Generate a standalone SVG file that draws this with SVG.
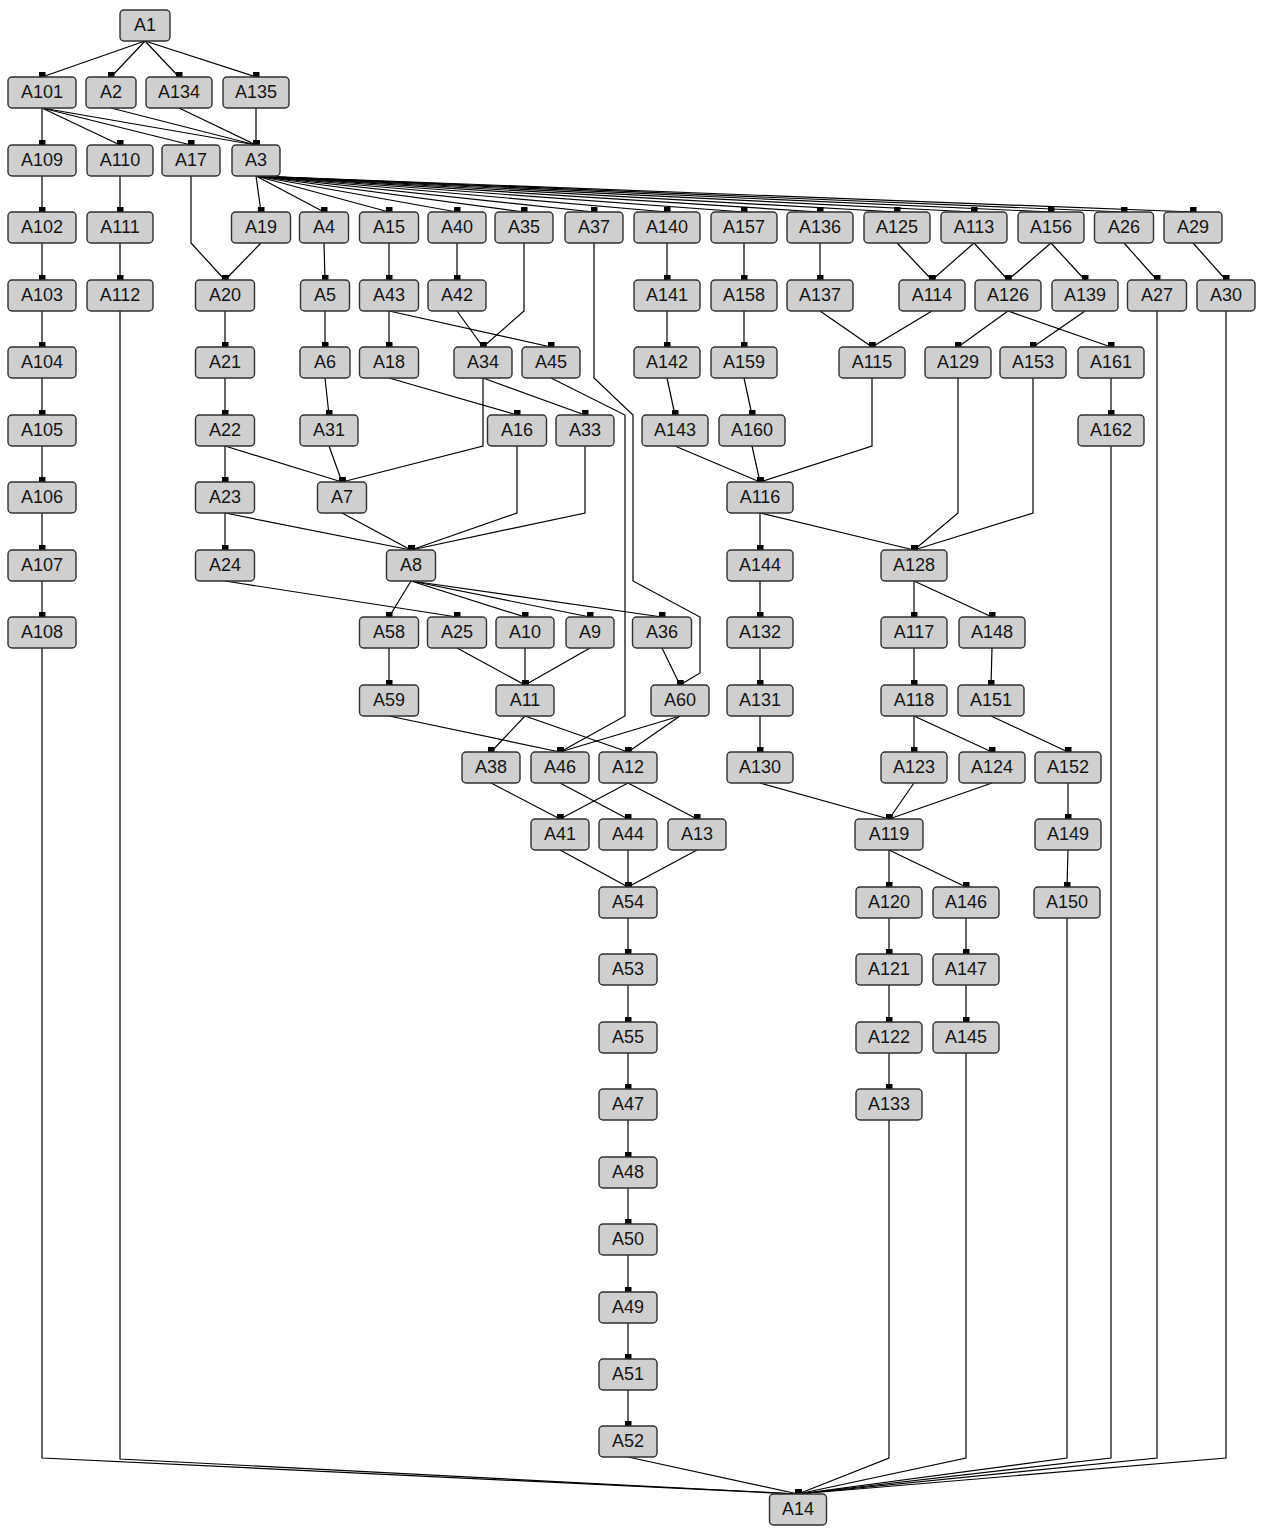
<svg xmlns="http://www.w3.org/2000/svg" width="1262" height="1530" viewBox="0 0 1262 1530">
<style>
.n rect{fill:#cfcfcf;stroke:#303030;stroke-width:1.4}
.n text{font-family:"Liberation Sans",Arial,sans-serif;font-size:18px;fill:#151515;text-anchor:middle}
#edges path{fill:none;stroke:#000;stroke-width:1.2;marker-end:url(#m)}
</style>
<defs>
<marker id="m" markerUnits="userSpaceOnUse" markerWidth="7" markerHeight="5" viewBox="0 0 7 5" refX="3.5" refY="5" orient="0"><rect width="7" height="5" fill="#000"/></marker>
</defs>
<rect width="1262" height="1530" fill="#fff"/>
<g id="edges">
<path d="M145 41L42 77"/><path d="M145 41L111 77"/><path d="M145 41L179 77"/><path d="M145 41L256 77"/>
<path d="M42 108L42 145"/><path d="M42 108L120 145"/><path d="M42 108L191 145"/><path d="M42 108L256 145"/>
<path d="M111 108L256 145"/><path d="M179 108L256 145"/><path d="M256 108L256 145"/>
<path d="M42 176L42 212"/><path d="M42 243L42 280"/><path d="M42 311L42 347"/><path d="M42 378L42 415"/><path d="M42 446L42 482"/><path d="M42 513L42 550"/><path d="M42 581L42 617"/>
<path d="M42 648L42 1458L798 1494"/>
<path d="M120 176L120 212"/><path d="M120 243L120 280"/>
<path d="M120 311L120 1459L798 1494"/>
<path d="M191 176L191 243L225 280"/>
<path d="M256 176L261 212"/><path d="M256 176L324 212"/><path d="M256 176L389 212"/><path d="M256 176L457 212"/><path d="M256 176L524 212"/><path d="M256 176L594 212"/><path d="M256 176L667 212"/><path d="M256 176L744 212"/><path d="M256 176L820 212"/><path d="M256 176L897 212"/><path d="M256 176L974 212"/><path d="M256 176L1051 212"/><path d="M256 176L1124 212"/><path d="M256 176L1193 212"/>
<path d="M261 243L225 280"/>
<path d="M225 311L225 347"/><path d="M225 378L225 415"/><path d="M225 446L225 482"/><path d="M225 446L342 482"/><path d="M225 513L225 550"/><path d="M225 513L411 550"/><path d="M225 581L457 617"/>
<path d="M324 243L325 280"/><path d="M325 311L325 347"/><path d="M325 378L329 415"/><path d="M329 446L342 482"/><path d="M342 513L411 550"/>
<path d="M389 243L389 280"/><path d="M389 311L389 347"/><path d="M389 311L551 347"/><path d="M389 378L517 415"/>
<path d="M457 243L457 280"/><path d="M457 311L483 347"/>
<path d="M524 243L524 311L483 347"/>
<path d="M483 378L483 446L342 482"/><path d="M483 378L585 415"/>
<path d="M517 446L517 513L411 550"/><path d="M585 446L585 513L411 550"/>
<path d="M594 243L594 378L633 415L633 581L700 617L700 673L680 685"/>
<path d="M551 378L625 415L625 716L560 752"/>
<path d="M411 581L389 617"/><path d="M411 581L525 617"/><path d="M411 581L590 617"/><path d="M411 581L662 617"/>
<path d="M389 648L389 685"/><path d="M457 648L525 685"/><path d="M525 648L525 685"/><path d="M590 648L525 685"/><path d="M662 648L680 685"/>
<path d="M389 716L560 752"/><path d="M525 716L491 752"/><path d="M525 716L628 752"/><path d="M680 716L560 752"/><path d="M680 716L628 752"/>
<path d="M491 783L560 819"/><path d="M560 783L628 819"/><path d="M628 783L560 819"/><path d="M628 783L697 819"/>
<path d="M560 850L628 887"/><path d="M628 850L628 887"/><path d="M697 850L628 887"/>
<path d="M628 918L628 954"/><path d="M628 985L628 1022"/><path d="M628 1053L628 1089"/><path d="M628 1120L628 1157"/><path d="M628 1188L628 1224"/><path d="M628 1255L628 1292"/><path d="M628 1323L628 1359"/><path d="M628 1390L628 1426"/>
<path d="M628 1457L798 1494"/>
<path d="M667 243L667 280"/><path d="M667 311L667 347"/><path d="M667 378L675 415"/><path d="M675 446L760 482"/>
<path d="M744 243L744 280"/><path d="M744 311L744 347"/><path d="M744 378L752 415"/><path d="M752 446L760 482"/>
<path d="M820 243L820 280"/><path d="M820 311L872 347"/>
<path d="M897 243L932 280"/><path d="M974 243L932 280"/><path d="M974 243L1008 280"/><path d="M1051 243L1008 280"/><path d="M1051 243L1085 280"/>
<path d="M1124 243L1157 280"/><path d="M1193 243L1226 280"/>
<path d="M932 311L872 347"/><path d="M1008 311L958 347"/><path d="M1008 311L1111 347"/><path d="M1085 311L1033 347"/>
<path d="M872 378L872 446L760 482"/>
<path d="M958 378L958 513L914 550"/><path d="M1033 378L1033 513L914 550"/>
<path d="M1111 378L1111 415"/>
<path d="M1111 446L1111 1458L798 1494"/>
<path d="M1157 311L1157 1458L798 1494"/>
<path d="M1226 311L1226 1458L798 1494"/>
<path d="M760 513L760 550"/><path d="M760 513L914 550"/>
<path d="M760 581L760 617"/><path d="M760 648L760 685"/><path d="M760 716L760 752"/><path d="M760 783L889 819"/>
<path d="M914 581L914 617"/><path d="M914 581L992 617"/><path d="M914 648L914 685"/><path d="M992 648L991 685"/>
<path d="M914 716L914 752"/><path d="M914 716L992 752"/><path d="M991 716L1068 752"/>
<path d="M914 783L889 819"/><path d="M992 783L889 819"/>
<path d="M1068 783L1068 819"/><path d="M1068 850L1067 887"/>
<path d="M1067 918L1067 1458L798 1494"/>
<path d="M889 850L889 887"/><path d="M889 850L966 887"/>
<path d="M889 918L889 954"/><path d="M889 985L889 1022"/><path d="M889 1053L889 1089"/>
<path d="M889 1120L889 1458L798 1494"/>
<path d="M966 918L966 954"/><path d="M966 985L966 1022"/>
<path d="M966 1053L966 1458L798 1494"/>
</g>
<g id="A1" class="n"><rect x="120" y="10" width="50" height="31" rx="4"/><text x="145" y="31">A1</text></g>
<g id="A101" class="n"><rect x="8" y="77" width="68" height="31" rx="4"/><text x="42" y="98">A101</text></g>
<g id="A2" class="n"><rect x="86" y="77" width="50" height="31" rx="4"/><text x="111" y="98">A2</text></g>
<g id="A134" class="n"><rect x="146" y="77" width="66" height="31" rx="4"/><text x="179" y="98">A134</text></g>
<g id="A135" class="n"><rect x="223" y="77" width="66" height="31" rx="4"/><text x="256" y="98">A135</text></g>
<g id="A109" class="n"><rect x="8" y="145" width="68" height="31" rx="4"/><text x="42" y="166">A109</text></g>
<g id="A110" class="n"><rect x="87" y="145" width="66" height="31" rx="4"/><text x="120" y="166">A110</text></g>
<g id="A17" class="n"><rect x="162" y="145" width="58" height="31" rx="4"/><text x="191" y="166">A17</text></g>
<g id="A3" class="n"><rect x="232" y="145" width="48" height="31" rx="4"/><text x="256" y="166">A3</text></g>
<g id="A102" class="n"><rect x="8" y="212" width="68" height="31" rx="4"/><text x="42" y="233">A102</text></g>
<g id="A111" class="n"><rect x="87" y="212" width="66" height="31" rx="4"/><text x="120" y="233">A111</text></g>
<g id="A19" class="n"><rect x="231.5" y="212" width="59" height="31" rx="4"/><text x="261" y="233">A19</text></g>
<g id="A4" class="n"><rect x="299.5" y="212" width="49" height="31" rx="4"/><text x="324" y="233">A4</text></g>
<g id="A15" class="n"><rect x="359.5" y="212" width="59" height="31" rx="4"/><text x="389" y="233">A15</text></g>
<g id="A40" class="n"><rect x="428" y="212" width="58" height="31" rx="4"/><text x="457" y="233">A40</text></g>
<g id="A35" class="n"><rect x="495" y="212" width="58" height="31" rx="4"/><text x="524" y="233">A35</text></g>
<g id="A37" class="n"><rect x="565" y="212" width="58" height="31" rx="4"/><text x="594" y="233">A37</text></g>
<g id="A140" class="n"><rect x="634" y="212" width="66" height="31" rx="4"/><text x="667" y="233">A140</text></g>
<g id="A157" class="n"><rect x="711" y="212" width="66" height="31" rx="4"/><text x="744" y="233">A157</text></g>
<g id="A136" class="n"><rect x="787" y="212" width="66" height="31" rx="4"/><text x="820" y="233">A136</text></g>
<g id="A125" class="n"><rect x="864" y="212" width="66" height="31" rx="4"/><text x="897" y="233">A125</text></g>
<g id="A113" class="n"><rect x="941" y="212" width="66" height="31" rx="4"/><text x="974" y="233">A113</text></g>
<g id="A156" class="n"><rect x="1018" y="212" width="66" height="31" rx="4"/><text x="1051" y="233">A156</text></g>
<g id="A26" class="n"><rect x="1094.5" y="212" width="59" height="31" rx="4"/><text x="1124" y="233">A26</text></g>
<g id="A29" class="n"><rect x="1164" y="212" width="58" height="31" rx="4"/><text x="1193" y="233">A29</text></g>
<g id="A103" class="n"><rect x="8" y="280" width="68" height="31" rx="4"/><text x="42" y="301">A103</text></g>
<g id="A112" class="n"><rect x="87" y="280" width="66" height="31" rx="4"/><text x="120" y="301">A112</text></g>
<g id="A20" class="n"><rect x="195.5" y="280" width="59" height="31" rx="4"/><text x="225" y="301">A20</text></g>
<g id="A5" class="n"><rect x="300.5" y="280" width="49" height="31" rx="4"/><text x="325" y="301">A5</text></g>
<g id="A43" class="n"><rect x="359.5" y="280" width="59" height="31" rx="4"/><text x="389" y="301">A43</text></g>
<g id="A42" class="n"><rect x="428" y="280" width="58" height="31" rx="4"/><text x="457" y="301">A42</text></g>
<g id="A141" class="n"><rect x="634" y="280" width="66" height="31" rx="4"/><text x="667" y="301">A141</text></g>
<g id="A158" class="n"><rect x="711" y="280" width="66" height="31" rx="4"/><text x="744" y="301">A158</text></g>
<g id="A137" class="n"><rect x="787" y="280" width="66" height="31" rx="4"/><text x="820" y="301">A137</text></g>
<g id="A114" class="n"><rect x="899" y="280" width="66" height="31" rx="4"/><text x="932" y="301">A114</text></g>
<g id="A126" class="n"><rect x="975" y="280" width="66" height="31" rx="4"/><text x="1008" y="301">A126</text></g>
<g id="A139" class="n"><rect x="1052" y="280" width="66" height="31" rx="4"/><text x="1085" y="301">A139</text></g>
<g id="A27" class="n"><rect x="1127.5" y="280" width="59" height="31" rx="4"/><text x="1157" y="301">A27</text></g>
<g id="A30" class="n"><rect x="1197" y="280" width="58" height="31" rx="4"/><text x="1226" y="301">A30</text></g>
<g id="A104" class="n"><rect x="8" y="347" width="68" height="31" rx="4"/><text x="42" y="368">A104</text></g>
<g id="A21" class="n"><rect x="195.5" y="347" width="59" height="31" rx="4"/><text x="225" y="368">A21</text></g>
<g id="A6" class="n"><rect x="300" y="347" width="50" height="31" rx="4"/><text x="325" y="368">A6</text></g>
<g id="A18" class="n"><rect x="359.5" y="347" width="59" height="31" rx="4"/><text x="389" y="368">A18</text></g>
<g id="A34" class="n"><rect x="454" y="347" width="58" height="31" rx="4"/><text x="483" y="368">A34</text></g>
<g id="A45" class="n"><rect x="522" y="347" width="58" height="31" rx="4"/><text x="551" y="368">A45</text></g>
<g id="A142" class="n"><rect x="634" y="347" width="66" height="31" rx="4"/><text x="667" y="368">A142</text></g>
<g id="A159" class="n"><rect x="711" y="347" width="66" height="31" rx="4"/><text x="744" y="368">A159</text></g>
<g id="A115" class="n"><rect x="839" y="347" width="66" height="31" rx="4"/><text x="872" y="368">A115</text></g>
<g id="A129" class="n"><rect x="925" y="347" width="66" height="31" rx="4"/><text x="958" y="368">A129</text></g>
<g id="A153" class="n"><rect x="1000" y="347" width="66" height="31" rx="4"/><text x="1033" y="368">A153</text></g>
<g id="A161" class="n"><rect x="1078" y="347" width="66" height="31" rx="4"/><text x="1111" y="368">A161</text></g>
<g id="A105" class="n"><rect x="8" y="415" width="68" height="31" rx="4"/><text x="42" y="436">A105</text></g>
<g id="A22" class="n"><rect x="195.5" y="415" width="59" height="31" rx="4"/><text x="225" y="436">A22</text></g>
<g id="A31" class="n"><rect x="300" y="415" width="58" height="31" rx="4"/><text x="329" y="436">A31</text></g>
<g id="A16" class="n"><rect x="487.5" y="415" width="59" height="31" rx="4"/><text x="517" y="436">A16</text></g>
<g id="A33" class="n"><rect x="556" y="415" width="58" height="31" rx="4"/><text x="585" y="436">A33</text></g>
<g id="A143" class="n"><rect x="642" y="415" width="66" height="31" rx="4"/><text x="675" y="436">A143</text></g>
<g id="A160" class="n"><rect x="719" y="415" width="66" height="31" rx="4"/><text x="752" y="436">A160</text></g>
<g id="A162" class="n"><rect x="1078" y="415" width="66" height="31" rx="4"/><text x="1111" y="436">A162</text></g>
<g id="A106" class="n"><rect x="8" y="482" width="68" height="31" rx="4"/><text x="42" y="503">A106</text></g>
<g id="A23" class="n"><rect x="195.5" y="482" width="59" height="31" rx="4"/><text x="225" y="503">A23</text></g>
<g id="A7" class="n"><rect x="317.5" y="482" width="49" height="31" rx="4"/><text x="342" y="503">A7</text></g>
<g id="A116" class="n"><rect x="727" y="482" width="66" height="31" rx="4"/><text x="760" y="503">A116</text></g>
<g id="A107" class="n"><rect x="8" y="550" width="68" height="31" rx="4"/><text x="42" y="571">A107</text></g>
<g id="A24" class="n"><rect x="195.5" y="550" width="59" height="31" rx="4"/><text x="225" y="571">A24</text></g>
<g id="A8" class="n"><rect x="386.5" y="550" width="49" height="31" rx="4"/><text x="411" y="571">A8</text></g>
<g id="A144" class="n"><rect x="727" y="550" width="66" height="31" rx="4"/><text x="760" y="571">A144</text></g>
<g id="A128" class="n"><rect x="881" y="550" width="66" height="31" rx="4"/><text x="914" y="571">A128</text></g>
<g id="A108" class="n"><rect x="8" y="617" width="68" height="31" rx="4"/><text x="42" y="638">A108</text></g>
<g id="A58" class="n"><rect x="359.5" y="617" width="59" height="31" rx="4"/><text x="389" y="638">A58</text></g>
<g id="A25" class="n"><rect x="427.5" y="617" width="59" height="31" rx="4"/><text x="457" y="638">A25</text></g>
<g id="A10" class="n"><rect x="496" y="617" width="58" height="31" rx="4"/><text x="525" y="638">A10</text></g>
<g id="A9" class="n"><rect x="566" y="617" width="48" height="31" rx="4"/><text x="590" y="638">A9</text></g>
<g id="A36" class="n"><rect x="632.5" y="617" width="59" height="31" rx="4"/><text x="662" y="638">A36</text></g>
<g id="A132" class="n"><rect x="727" y="617" width="66" height="31" rx="4"/><text x="760" y="638">A132</text></g>
<g id="A117" class="n"><rect x="881" y="617" width="66" height="31" rx="4"/><text x="914" y="638">A117</text></g>
<g id="A148" class="n"><rect x="959" y="617" width="66" height="31" rx="4"/><text x="992" y="638">A148</text></g>
<g id="A59" class="n"><rect x="359.5" y="685" width="59" height="31" rx="4"/><text x="389" y="706">A59</text></g>
<g id="A11" class="n"><rect x="496" y="685" width="58" height="31" rx="4"/><text x="525" y="706">A11</text></g>
<g id="A60" class="n"><rect x="651" y="685" width="58" height="31" rx="4"/><text x="680" y="706">A60</text></g>
<g id="A131" class="n"><rect x="727" y="685" width="66" height="31" rx="4"/><text x="760" y="706">A131</text></g>
<g id="A118" class="n"><rect x="881" y="685" width="66" height="31" rx="4"/><text x="914" y="706">A118</text></g>
<g id="A151" class="n"><rect x="958" y="685" width="66" height="31" rx="4"/><text x="991" y="706">A151</text></g>
<g id="A38" class="n"><rect x="462" y="752" width="58" height="31" rx="4"/><text x="491" y="773">A38</text></g>
<g id="A46" class="n"><rect x="531" y="752" width="58" height="31" rx="4"/><text x="560" y="773">A46</text></g>
<g id="A12" class="n"><rect x="599" y="752" width="58" height="31" rx="4"/><text x="628" y="773">A12</text></g>
<g id="A130" class="n"><rect x="727" y="752" width="66" height="31" rx="4"/><text x="760" y="773">A130</text></g>
<g id="A123" class="n"><rect x="881" y="752" width="66" height="31" rx="4"/><text x="914" y="773">A123</text></g>
<g id="A124" class="n"><rect x="959" y="752" width="66" height="31" rx="4"/><text x="992" y="773">A124</text></g>
<g id="A152" class="n"><rect x="1035" y="752" width="66" height="31" rx="4"/><text x="1068" y="773">A152</text></g>
<g id="A41" class="n"><rect x="531" y="819" width="58" height="31" rx="4"/><text x="560" y="840">A41</text></g>
<g id="A44" class="n"><rect x="599" y="819" width="58" height="31" rx="4"/><text x="628" y="840">A44</text></g>
<g id="A13" class="n"><rect x="668" y="819" width="58" height="31" rx="4"/><text x="697" y="840">A13</text></g>
<g id="A119" class="n"><rect x="855" y="819" width="68" height="31" rx="4"/><text x="889" y="840">A119</text></g>
<g id="A149" class="n"><rect x="1035" y="819" width="66" height="31" rx="4"/><text x="1068" y="840">A149</text></g>
<g id="A54" class="n"><rect x="599" y="887" width="58" height="31" rx="4"/><text x="628" y="908">A54</text></g>
<g id="A120" class="n"><rect x="856" y="887" width="66" height="31" rx="4"/><text x="889" y="908">A120</text></g>
<g id="A146" class="n"><rect x="933" y="887" width="66" height="31" rx="4"/><text x="966" y="908">A146</text></g>
<g id="A150" class="n"><rect x="1034" y="887" width="66" height="31" rx="4"/><text x="1067" y="908">A150</text></g>
<g id="A53" class="n"><rect x="599" y="954" width="58" height="31" rx="4"/><text x="628" y="975">A53</text></g>
<g id="A121" class="n"><rect x="856" y="954" width="66" height="31" rx="4"/><text x="889" y="975">A121</text></g>
<g id="A147" class="n"><rect x="933" y="954" width="66" height="31" rx="4"/><text x="966" y="975">A147</text></g>
<g id="A55" class="n"><rect x="599" y="1022" width="58" height="31" rx="4"/><text x="628" y="1043">A55</text></g>
<g id="A122" class="n"><rect x="856" y="1022" width="66" height="31" rx="4"/><text x="889" y="1043">A122</text></g>
<g id="A145" class="n"><rect x="933" y="1022" width="66" height="31" rx="4"/><text x="966" y="1043">A145</text></g>
<g id="A47" class="n"><rect x="599" y="1089" width="58" height="31" rx="4"/><text x="628" y="1110">A47</text></g>
<g id="A133" class="n"><rect x="856" y="1089" width="66" height="31" rx="4"/><text x="889" y="1110">A133</text></g>
<g id="A48" class="n"><rect x="599" y="1157" width="58" height="31" rx="4"/><text x="628" y="1178">A48</text></g>
<g id="A50" class="n"><rect x="599" y="1224" width="58" height="31" rx="4"/><text x="628" y="1245">A50</text></g>
<g id="A49" class="n"><rect x="599" y="1292" width="58" height="31" rx="4"/><text x="628" y="1313">A49</text></g>
<g id="A51" class="n"><rect x="599" y="1359" width="58" height="31" rx="4"/><text x="628" y="1380">A51</text></g>
<g id="A52" class="n"><rect x="599" y="1426" width="58" height="31" rx="4"/><text x="628" y="1447">A52</text></g>
<g id="A14" class="n"><rect x="769.5" y="1494" width="57" height="31" rx="4"/><text x="798" y="1515">A14</text></g>
</svg>
